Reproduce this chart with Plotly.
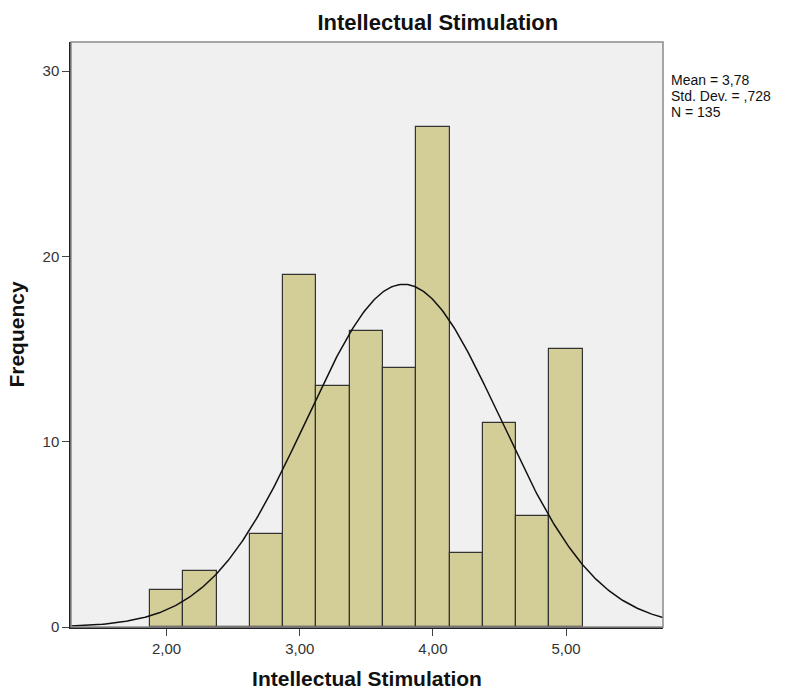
import numpy as np
import plotly.graph_objects as go

# Histogram bins (centres, width 0.25) and their counts
bin_centers = [2.00, 2.25, 2.50, 2.75, 3.00, 3.25, 3.50, 3.75, 4.00, 4.25, 4.50, 4.75, 5.00]
counts = [2, 3, 0, 5, 19, 13, 16, 14, 27, 4, 11, 6, 15]
bin_width = 0.25

mean = 3.78
std_dev = 0.728
n_obs = 135

x_range = [1.282, 5.728]
y_range = [0, 31.57]
x_ticks = [2, 3, 4, 5]
y_ticks = [0, 10, 20, 30]

stats_lines = [
    "Mean = " + f"{mean:.2f}".replace(".", ","),
    "Std. Dev. = ," + f"{std_dev:.3f}".split(".")[1],
    f"N = {n_obs}",
]

FONT = "Liberation Sans, Arial, sans-serif"

fig = go.Figure()

fig.add_trace(go.Bar(
    x=bin_centers,
    y=counts,
    width=[bin_width] * len(bin_centers),
    marker=dict(color="#d3ce98", line=dict(color="#333333", width=1.2)),
    hoverinfo="x+y",
    showlegend=False,
))

# Normal curve scaled to the histogram counts
xs = np.linspace(x_range[0], x_range[1], 400)
ys = n_obs * bin_width / (std_dev * np.sqrt(2 * np.pi)) * np.exp(-0.5 * ((xs - mean) / std_dev) ** 2)
fig.add_trace(go.Scatter(
    x=xs, y=ys, mode="lines",
    line=dict(color="#111111", width=1.5),
    hoverinfo="skip", showlegend=False,
))

# Frame around the plotting area (top/right in grey)
fig.add_shape(type="rect", xref="paper", yref="paper", x0=0, y0=0, x1=1, y1=1,
              line=dict(color="#8a8a8a", width=1.5), layer="above")

# Summary statistics, one line per annotation for tight spacing
for i, line in enumerate(stats_lines):
    fig.add_annotation(
        xref="paper", yref="paper", x=1.0, xshift=6, y=0.935 - i * 0.0274,
        xanchor="left", yanchor="middle",
        text=line, showarrow=False, align="left",
        font=dict(family=FONT, size=14, color="#111111"),
    )

fig.update_layout(
    width=786, height=692,
    margin=dict(l=71, r=123, t=42, b=65),
    paper_bgcolor="white",
    plot_bgcolor="#f0f0f0",
    separators=", ",
    bargap=0,
    font=dict(family=FONT, size=15, color="#333333"),
    title=dict(
        text="<b>Intellectual Stimulation</b>",
        x=0.557, xanchor="center", y=0.968, yanchor="middle",
        font=dict(family=FONT, size=22, color="#111111"),
    ),
    xaxis=dict(
        range=x_range, tickvals=x_ticks, tickformat=".2f",
        showgrid=False, zeroline=False, automargin=False,
        showline=True, linecolor="#222222", linewidth=1.5,
        ticks="outside", ticklen=7, tickcolor="#444444",
        tickfont=dict(family=FONT, size=15, color="#333333"),
        title=dict(text="<b>Intellectual Stimulation</b>", standoff=16,
                   font=dict(family=FONT, size=21, color="#111111")),
    ),
    yaxis=dict(
        range=y_range, tickvals=y_ticks,
        showgrid=False, zeroline=False, automargin=False,
        showline=True, linecolor="#222222", linewidth=1.5,
        ticks="outside", ticklen=7, tickcolor="#444444",
        tickfont=dict(family=FONT, size=15, color="#333333"),
        title=dict(text="<b>Frequency</b>", standoff=12,
                   font=dict(family=FONT, size=21, color="#111111")),
    ),
)

fig.write_html("out.html")
